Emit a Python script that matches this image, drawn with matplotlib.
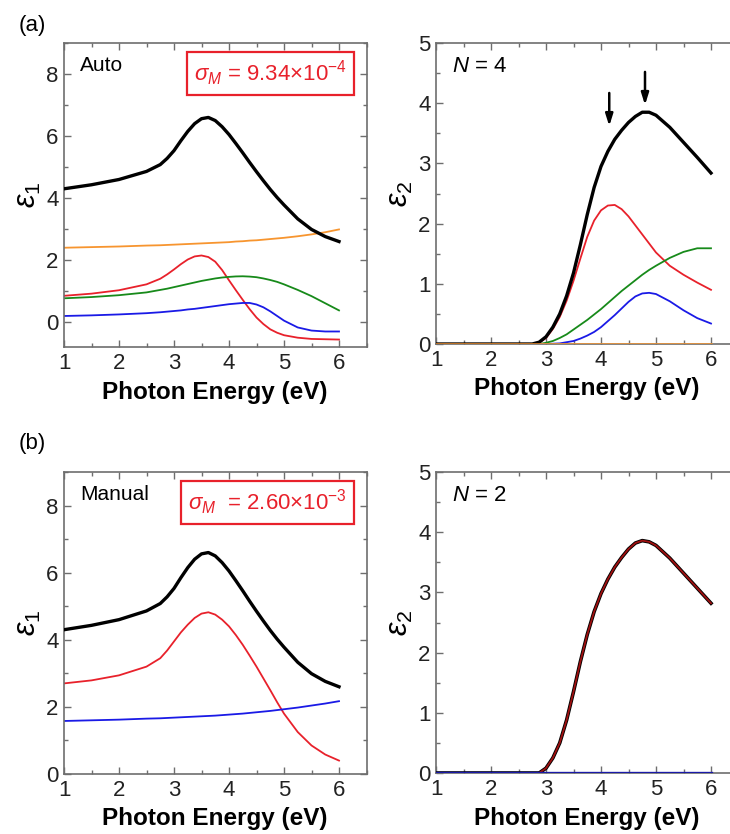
import matplotlib
matplotlib.use('Agg')
import matplotlib.pyplot as plt
from matplotlib.ticker import MultipleLocator

plt.rcParams['font.family'] = ['Liberation Sans', 'DejaVu Sans']
plt.rcParams['mathtext.fontset'] = 'custom'
plt.rcParams['mathtext.rm'] = 'Liberation Sans'
plt.rcParams['mathtext.it'] = 'Liberation Sans:italic'
plt.rcParams['axes.unicode_minus'] = True

# photon energy grid (eV), denser around the peaks
energy = [1.0, 1.5, 2.0, 2.5, 2.75, 2.875, 3.0, 3.125, 3.25, 3.375, 3.5,
          3.625, 3.75, 3.875, 4.0, 4.125, 4.25, 4.375, 4.5, 4.625, 4.75,
          4.875, 5.0, 5.25, 5.5, 5.75, 6.0]

# (a) auto, eps1
a_e1_total = [4.30, 4.43, 4.60, 4.86, 5.08, 5.28, 5.53, 5.85, 6.15, 6.40, 6.56,
              6.60, 6.50, 6.30, 6.05, 5.76, 5.46, 5.15, 4.85, 4.56, 4.28,
              4.02, 3.78, 3.33, 2.99, 2.76, 2.60]
a_e1_orange = [2.40, 2.42, 2.44, 2.47, 2.48, 2.49, 2.50, 2.51, 2.52, 2.53, 2.54,
               2.55, 2.56, 2.57, 2.58, 2.60, 2.61, 2.63, 2.64, 2.66, 2.68,
               2.70, 2.72, 2.77, 2.83, 2.90, 2.99]
a_e1_red = [0.85, 0.92, 1.03, 1.22, 1.40, 1.54, 1.70, 1.87, 2.02, 2.12, 2.15,
            2.10, 1.95, 1.68, 1.35, 1.03, 0.72, 0.42, 0.15, -0.06, -0.23,
            -0.34, -0.42, -0.50, -0.54, -0.55, -0.56]
a_e1_green = [0.77, 0.81, 0.87, 0.96, 1.04, 1.08, 1.13, 1.18, 1.23, 1.28, 1.33,
              1.37, 1.41, 1.44, 1.46, 1.475, 1.48, 1.47, 1.45, 1.41, 1.36,
              1.30, 1.22, 1.04, 0.84, 0.61, 0.38]
a_e1_blue = [0.20, 0.22, 0.25, 0.29, 0.32, 0.34, 0.36, 0.38, 0.41, 0.43, 0.46,
             0.49, 0.52, 0.55, 0.58, 0.60, 0.62, 0.62, 0.57, 0.48, 0.35,
             0.20, 0.05, -0.17, -0.27, -0.30, -0.30]

# (a) auto, eps2
a_e2_total = [0, 0, 0, 0, 0, 0.03, 0.12, 0.28, 0.50, 0.80, 1.18,
              1.65, 2.15, 2.60, 2.95, 3.20, 3.40, 3.55, 3.68, 3.78, 3.85,
              3.85, 3.80, 3.60, 3.35, 3.10, 2.84]
a_e2_red = [0, 0, 0, 0, 0, 0.02, 0.10, 0.25, 0.45, 0.72, 1.05,
            1.42, 1.78, 2.05, 2.22, 2.30, 2.31, 2.24, 2.12, 1.97, 1.82,
            1.67, 1.52, 1.30, 1.15, 1.02, 0.90]
a_e2_green = [0, 0, 0, 0, 0, 0.0, 0.02, 0.05, 0.10, 0.16, 0.24,
              0.32, 0.40, 0.49, 0.58, 0.68, 0.78, 0.88, 0.97, 1.06, 1.15,
              1.23, 1.30, 1.43, 1.53, 1.59, 1.59]
a_e2_blue = [0, 0, 0, 0, 0, 0, 0.0, 0.005, 0.01, 0.03, 0.05,
             0.09, 0.14, 0.20, 0.28, 0.38, 0.48, 0.59, 0.70, 0.79, 0.84,
             0.85, 0.83, 0.71, 0.56, 0.43, 0.34]
a_e2_orange = [0] * 27

# (b) manual, eps1
b_e1_total = a_e1_total
b_e1_red = [2.70, 2.79, 2.94, 3.20, 3.45, 3.68, 3.95, 4.22, 4.45, 4.65, 4.78,
            4.82, 4.75, 4.60, 4.40, 4.14, 3.85, 3.53, 3.20, 2.85, 2.50,
            2.14, 1.80, 1.25, 0.85, 0.58, 0.40]
b_e1_blue = [1.58, 1.60, 1.62, 1.65, 1.66, 1.67, 1.68, 1.69, 1.70, 1.71, 1.72,
             1.73, 1.74, 1.755, 1.77, 1.785, 1.80, 1.82, 1.84, 1.86, 1.88,
             1.905, 1.93, 1.98, 2.04, 2.10, 2.17]

# (b) manual, eps2
b_e2_total = [0, 0, 0, 0, 0, 0.0, 0.08, 0.25, 0.50, 0.88, 1.35,
              1.85, 2.30, 2.68, 2.98, 3.22, 3.42, 3.58, 3.72, 3.82, 3.86,
              3.84, 3.78, 3.57, 3.32, 3.07, 2.82]
b_e2_blue = [0] * 27

RED = '#e8212b'
GREEN = '#178a1a'
BLUE = '#1a1ae6'
ORANGE = '#f7952f'
FRAME = '#6e6e6e'

W, H = 730, 834
fig = plt.figure(figsize=(W / 100, H / 100), dpi=100)
ax_a1 = fig.add_axes([64 / W, (H - 347) / H, 302.5 / W, 304 / H])
ax_a2 = fig.add_axes([436 / W, (H - 344) / H, 302.5 / W, 301 / H])
ax_b1 = fig.add_axes([64 / W, (H - 774) / H, 302.5 / W, 302 / H])
ax_b2 = fig.add_axes([436 / W, (H - 773) / H, 302.5 / W, 301 / H])


def style(ax, ylim, ymajor, yminor, ylab):
    ax.set_xlim(1, 6.5)
    ax.set_ylim(*ylim)
    ax.xaxis.set_major_locator(MultipleLocator(1))
    ax.xaxis.set_minor_locator(MultipleLocator(0.5))
    ax.yaxis.set_major_locator(MultipleLocator(ymajor))
    ax.yaxis.set_minor_locator(MultipleLocator(yminor))
    ax.tick_params(which='both', direction='in', top=True, right=True,
                   color=FRAME, width=1)
    ax.tick_params(which='major', length=5, labelsize=16, pad=4,
                   labelcolor='#222222')
    ax.tick_params(which='minor', length=3)
    ax.set_xticks([1, 2, 3, 4, 5, 6])
    for s in ax.spines.values():
        s.set_color(FRAME)
        s.set_linewidth(1.2)
    ax.set_xlabel('Photon Energy (eV)', fontsize=17.5, fontweight='bold',
                  labelpad=5)
    ax.set_ylabel(ylab, fontsize=22, labelpad=2)


# (a) eps1
ax_a1.plot(energy, a_e1_total, color='black', lw=2.4, zorder=5)
ax_a1.plot(energy, a_e1_orange, color=ORANGE, lw=1.3)
ax_a1.plot(energy, a_e1_red, color=RED, lw=1.3)
ax_a1.plot(energy, a_e1_green, color=GREEN, lw=1.3)
ax_a1.plot(energy, a_e1_blue, color=BLUE, lw=1.3)
style(ax_a1, (-0.8, 9.0), 2, 1, r'$\varepsilon_1$')
ax_a1.set_yticks([0, 2, 4, 6, 8])
ax_a1.text(0.053, 0.958, 'Auto', transform=ax_a1.transAxes, fontsize=15,
           va='top', ha='left')
ax_a1.text(0.43, 0.9, r'$\sigma_M$ = 9.34×10$^{-4}$', transform=ax_a1.transAxes,
           fontsize=16, color=RED, va='center', ha='left',
           bbox=dict(boxstyle='square,pad=0.3', fc='white', ec=RED, lw=1.6))

# (a) eps2
ax_a2.plot(energy, a_e2_total, color='black', lw=2.4, zorder=5)
ax_a2.plot(energy, a_e2_red, color=RED, lw=1.3)
ax_a2.plot(energy, a_e2_green, color=GREEN, lw=1.3)
ax_a2.plot(energy, a_e2_blue, color=BLUE, lw=1.3)
ax_a2.plot(energy, a_e2_orange, color=ORANGE, lw=1.8, zorder=6)
style(ax_a2, (0, 5), 1, 0.5, r'$\varepsilon_2$')
ax_a2.text(0.053, 0.958, r'$N$ = 4', transform=ax_a2.transAxes, fontsize=16,
           va='top', ha='left')
for xa, y0, y1 in [(4.15, 4.17, 3.62), (4.8, 4.52, 3.97)]:
    ax_a2.annotate('', xy=(xa, y1), xytext=(xa, y0),
                   arrowprops=dict(arrowstyle='-|>,head_length=0.7,head_width=0.22',
                                   color='black', lw=1.8, shrinkA=0, shrinkB=0))

# (b) eps1
ax_b1.plot(energy, b_e1_total, color='black', lw=2.4, zorder=5)
ax_b1.plot(energy, b_e1_red, color=RED, lw=1.3)
ax_b1.plot(energy, b_e1_blue, color=BLUE, lw=1.3)
style(ax_b1, (0, 9.0), 2, 1, r'$\varepsilon_1$')
ax_b1.set_yticks([0, 2, 4, 6, 8])
ax_b1.text(0.053, 0.958, 'Manual', transform=ax_b1.transAxes, fontsize=15,
           va='top', ha='left')
ax_b1.text(0.41, 0.9, r'$\sigma_M$  = 2.60×10$^{-3}$', transform=ax_b1.transAxes,
           fontsize=16, color=RED, va='center', ha='left',
           bbox=dict(boxstyle='square,pad=0.3', fc='white', ec=RED, lw=1.6))

# (b) eps2
ax_b2.plot(energy, b_e2_total, color='black', lw=2.6, zorder=4)
ax_b2.plot(energy, b_e2_total, color='#a01010', lw=1.3, zorder=5)
ax_b2.plot(energy, b_e2_blue, color='#1a1aa8', lw=2.4, zorder=6)
style(ax_b2, (0, 5), 1, 0.5, r'$\varepsilon_2$')
ax_b2.text(0.053, 0.958, r'$N$ = 2', transform=ax_b2.transAxes, fontsize=16,
           va='top', ha='left')

fig.text(19 / W, 1 - 26 / H, '(a)', fontsize=16, va='center', ha='left')
fig.text(19 / W, 1 - 444 / H, '(b)', fontsize=16, va='center', ha='left')

fig.savefig('out.png', dpi=100)
